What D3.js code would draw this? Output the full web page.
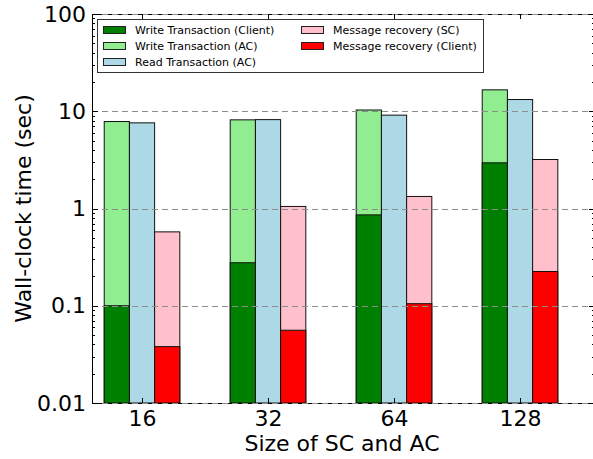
<!DOCTYPE html>
<html>
<head>
<meta charset="utf-8">
<script src="https://cdn.jsdelivr.net/npm/d3@7"></script>
<style>
  html, body { margin: 0; padding: 0; background: #fff; }
  svg { display: block; font-family: "DejaVu Sans", sans-serif; }
</style>
</head>
<body>
<svg id="chart" width="593" height="459"></svg>
<script>
// Wall-clock time per operation, by size of SC and AC (seconds, log scale)
const sizes = ["16", "32", "64", "128"];
const writeClient = [0.100, 0.277, 0.86, 2.95];
const writeAC = [7.84, 8.16, 10.3, 16.6];
const readAC = [7.60, 8.20, 9.12, 13.2];
const recoverySC = [0.575, 1.05, 1.33, 3.19];
const recoveryClient = [0.038, 0.056, 0.105, 0.225];
const yTicks = [0.01, 0.1, 1, 10, 100];
const yTickLabels = ["0.01", "0.1", "1", "10", "100"];

const colors = {
  writeClient: "#008000",
  writeAC: "#90ee90",
  readAC: "#add8e6",
  recoverySC: "#ffc0cb",
  recoveryClient: "#ff0000"
};

// The right edge of the axes box sits just past the canvas edge
const plotLeft = 92, plotRight = 595, plotTop = 14, plotBottom = 403;
const svg = d3.select("#chart");

const x = d3.scaleLinear().domain([-0.397, -0.397 + (plotRight - plotLeft) / 126]).range([plotLeft, plotRight]);
const y = d3.scaleLog().domain([0.01, 100]).range([plotBottom, plotTop]);
const barW = 0.2;

// Bars: each series drawn from the axis floor, darker parts over lighter totals
const layers = [
  { values: writeAC, off: -0.3, color: colors.writeAC },
  { values: writeClient, off: -0.3, color: colors.writeClient },
  { values: readAC, off: -0.1, color: colors.readAC },
  { values: recoverySC, off: 0.1, color: colors.recoverySC },
  { values: recoveryClient, off: 0.1, color: colors.recoveryClient }
];
const barsG = svg.append("g");
layers.forEach(L => {
  barsG.selectAll(null)
    .data(L.values)
    .join("rect")
    .attr("x", (d, i) => x(i + L.off))
    .attr("width", x(barW) - x(0))
    .attr("y", d => y(d))
    .attr("height", d => plotBottom - y(d))
    .attr("fill", L.color)
    .attr("stroke", "#111")
    .attr("stroke-width", 1);
});

// Frame
svg.append("rect")
  .attr("x", plotLeft + 0.5).attr("y", plotTop + 0.5)
  .attr("width", plotRight - plotLeft).attr("height", plotBottom - plotTop)
  .attr("fill", "none").attr("stroke", "#000").attr("stroke-width", 1);

// Horizontal dashed grid at decades
svg.append("g").selectAll("line")
  .data(yTicks)
  .join("line")
  .attr("x1", plotLeft).attr("x2", plotRight)
  .attr("y1", d => Math.round(y(d)) + 0.5).attr("y2", d => Math.round(y(d)) + 0.5)
  .attr("stroke", "#8c8c8c").attr("stroke-width", 1)
  .attr("stroke-dasharray", "6,4");

// Minor log ticks
const minor = [];
for (let e = -2; e < 2; e++) for (let m = 2; m <= 9; m++) minor.push(m * Math.pow(10, e));

function styleAxis(g) {
  g.select(".domain").remove();
  g.selectAll(".tick line").attr("stroke", "#000").attr("shape-rendering", "crispEdges");
  g.selectAll(".tick text").attr("fill", "#000").attr("font-family", "DejaVu Sans").attr("font-size", 22);
}

svg.append("g").attr("transform", `translate(${plotLeft},0)`)
  .call(d3.axisLeft(y).tickValues(yTicks).tickFormat((d, i) => yTickLabels[i]).tickSize(-6).tickPadding(6))
  .call(styleAxis);
svg.append("g").attr("transform", `translate(${plotLeft},0)`)
  .call(d3.axisLeft(y).tickValues(minor).tickFormat("").tickSize(-3))
  .call(styleAxis);
svg.append("g").attr("transform", `translate(${plotRight},0)`)
  .call(d3.axisRight(y).tickValues(yTicks).tickFormat("").tickSize(-6))
  .call(styleAxis);
svg.append("g").attr("transform", `translate(${plotRight},0)`)
  .call(d3.axisRight(y).tickValues(minor).tickFormat("").tickSize(-3))
  .call(styleAxis);

const xTickVals = sizes.map((s, i) => i);
svg.append("g").attr("transform", `translate(0,${plotBottom})`)
  .call(d3.axisBottom(x).tickValues(xTickVals).tickFormat((d, i) => sizes[i]).tickSize(-5).tickPadding(7))
  .call(styleAxis);
svg.append("g").attr("transform", `translate(0,${plotTop})`)
  .call(d3.axisTop(x).tickValues(xTickVals).tickFormat("").tickSize(-5))
  .call(styleAxis);

// Axis titles
svg.append("text")
  .attr("x", 342).attr("y", 451)
  .attr("text-anchor", "middle").attr("font-size", 22)
  .text("Size of SC and AC");
svg.append("text")
  .attr("transform", `translate(31,${(plotTop + plotBottom) / 2}) rotate(-90)`)
  .attr("text-anchor", "middle").attr("font-size", 22)
  .text("Wall-clock time (sec)");

// Legend
const legendItems = [
  { label: "Write Transaction (Client)", color: colors.writeClient, col: 0, row: 0 },
  { label: "Write Transaction (AC)", color: colors.writeAC, col: 0, row: 1 },
  { label: "Read Transaction (AC)", color: colors.readAC, col: 0, row: 2 },
  { label: "Message recovery (SC)", color: colors.recoverySC, col: 1, row: 0 },
  { label: "Message recovery (Client)", color: colors.recoveryClient, col: 1, row: 1 }
];
const lg = svg.append("g");
lg.append("rect")
  .attr("x", 97.5).attr("y", 19.5).attr("width", 386).attr("height", 53)
  .attr("fill", "#fff").attr("stroke", "#333").attr("stroke-width", 1);
const colX = [103, 301];
legendItems.forEach(it => {
  const cy = 30 + it.row * 16;
  lg.append("rect")
    .attr("x", colX[it.col] + 0.5).attr("y", cy - 3.5)
    .attr("width", 22).attr("height", 7)
    .attr("fill", it.color).attr("stroke", "#222").attr("stroke-width", 1);
  lg.append("text")
    .attr("x", colX[it.col] + 32).attr("y", cy + 4)
    .attr("font-size", 11).attr("fill", "#000")
    .text(it.label);
});
</script>
</body>
</html>
